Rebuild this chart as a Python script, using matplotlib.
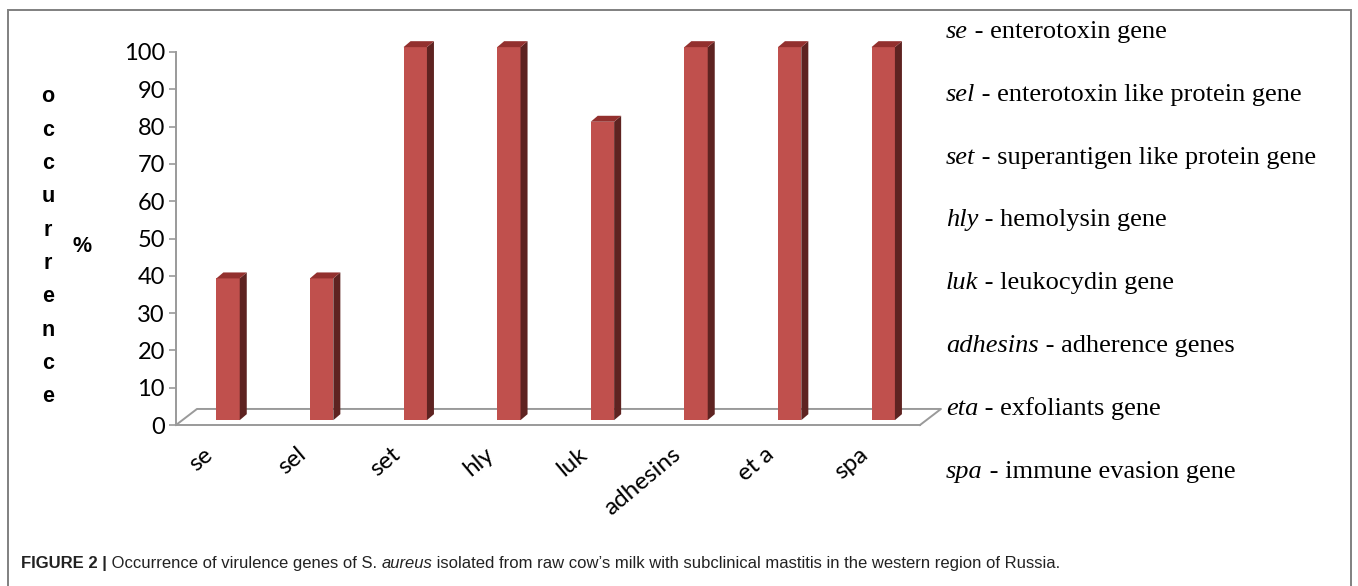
import matplotlib.pyplot as plt
from matplotlib.patches import Polygon, Rectangle
from matplotlib.transforms import ScaledTranslation

genes = ["se", "sel", "set", "hly", "luk", "adhesins", "eta", "spa"]
tick_labels = ["se", "sel", "set", "hly", "luk", "adhesins", "et a", "spa"]
occurrence = [38, 38, 100, 100, 80, 100, 100, 100]
gene_notes = ["enterotoxin gene", "enterotoxin like protein gene",
              "superantigen like protein gene", "hemolysin gene",
              "leukocydin gene", "adherence genes", "exfoliants gene",
              "immune evasion gene"]
y_ticks = list(range(0, 101, 10))
axis_word = "occurrence"

W, H = 1358, 586
fig = plt.figure(figsize=(W / 100, H / 100), dpi=100)
renderer = fig.canvas.get_renderer()


def fx(x):
    return x / W


def fy(y):
    return 1 - y / H


def put_runs(x, y, runs, **kw):
    # write text pieces one after another on the same baseline
    for s, style in runs:
        t = fig.text(fx(x), fy(y), s, va="baseline", ha="left", **style, **kw)
        x = t.get_window_extent(renderer).x1


# outer frame
fig.add_artist(Rectangle((fx(7.5), -0.1), fx(1351 - 7.5), fy(9.5) + 0.1,
                         transform=fig.transFigure, fill=False,
                         ec="#808080", lw=1.4))

ax = fig.add_axes([fx(176), fy(425), fx(920 - 176), (425 - 52) / H])
ax.set_xlim(-0.556, 7.393)
ax.set_ylim(0, 100)

grey = "#9a9a9a"
for side in ["top", "right"]:
    ax.spines[side].set_visible(False)
ax.spines["left"].set_color(grey)
ax.spines["bottom"].set_color(grey)
ax.spines["left"].set_linewidth(1.4)
ax.spines["bottom"].set_linewidth(1.4)

# floor of the 3-D box
x0, x1 = ax.get_xlim()
fdx, fdy = 0.224, 4.3
ax.plot([x0, x0 + fdx, x1 + fdx, x1], [0, fdy, fdy, 0], color=grey,
        lw=1.4, clip_on=False, zorder=1)

# columns: front face + side + top
xs = list(range(len(genes)))
base, w, dx, dy = 1.3, 0.25, 0.075, 1.6
bars = ax.bar(xs, occurrence, bottom=base, width=w, color="#C0504D",
              zorder=3, linewidth=0, clip_on=False)
for b in bars:
    left = b.get_x()
    right = left + b.get_width()
    top = b.get_y() + b.get_height()
    ax.add_patch(Polygon([(right, base), (right + dx, base + dy),
                          (right + dx, top + dy), (right, top)],
                         closed=True, fc="#5E2321", ec="none", zorder=3,
                         clip_on=False))
    ax.add_patch(Polygon([(left, top), (right, top), (right + dx, top + dy),
                          (left + dx, top + dy)],
                         closed=True, fc="#93302E", ec="none", zorder=3,
                         clip_on=False))

ax.set_yticks(y_ticks)
ax.tick_params(axis="y", length=5, width=1.2, color=grey, pad=3,
               labelsize=17)
for lab in ax.get_yticklabels():
    lab.set_family("Lato")

ax.set_xticks(xs, tick_labels)
ax.tick_params(axis="x", length=0, pad=13.5)
shift = ScaledTranslation(-25 / 100, 0, fig.dpi_scale_trans)
for lab in ax.get_xticklabels():
    lab.set_rotation(40)
    lab.set_ha("right")
    lab.set_va("top")
    lab.set_rotation_mode("anchor")
    lab.set_family("Lato")
    lab.set_fontsize(17.5)
    lab.set_transform(lab.get_transform() + shift)

# vertical axis title, one letter per line
for i, ch in enumerate(axis_word):
    fig.text(fx(48), fy(97 + 33.3 * i), ch, ha="center", va="center",
             fontsize=15.5, fontweight="bold", family="Liberation Sans")
fig.text(fx(82), fy(247), "%", ha="center", va="center", fontsize=15.5,
         fontweight="bold", family="Liberation Sans")

# gene abbreviations
for i, (g, note) in enumerate(zip(genes, gene_notes)):
    put_runs(946, 38 + 62.8 * i,
             [(g, {"style": "italic"}), (" - " + note, {})],
             family="Liberation Serif", fontsize=19, color="black")

# caption
put_runs(21, 568,
         [("FIGURE 2 |", {"fontweight": "bold"}),
          (" Occurrence of virulence genes of S. ", {}),
          ("aureus", {"style": "italic"}),
          (" isolated from raw cow\u2019s milk with subclinical mastitis in the "
           "western region of Russia.", {})],
         family="Liberation Sans", fontsize=12, color="#222222")

fig.savefig("out.png", dpi=100)
